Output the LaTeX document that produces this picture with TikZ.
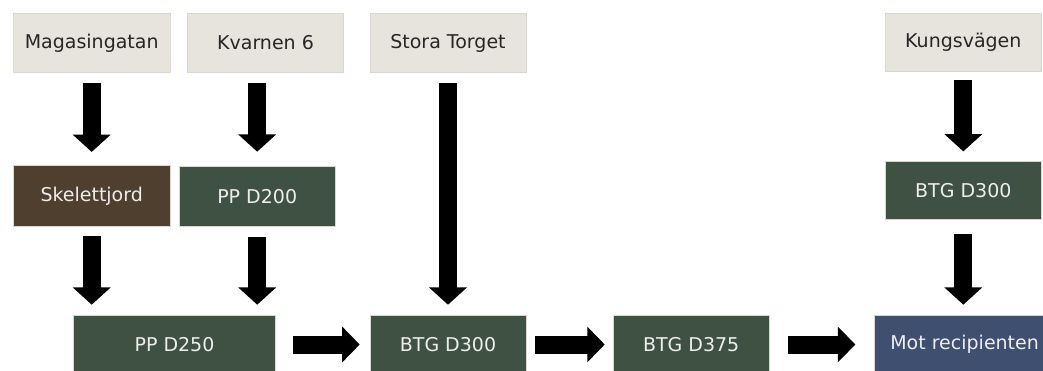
\documentclass[tikz,border=0pt]{standalone}
\usepackage{fontspec}
\setmainfont{DejaVu Sans}
\usetikzlibrary{arrows.meta}

\definecolor{sand}{HTML}{E7E4DD}
\definecolor{pine}{HTML}{3F5142}
\definecolor{soil}{HTML}{4F3F2F}
\definecolor{slate}{HTML}{3F4F6F}
\definecolor{edge}{HTML}{DAD7D2}
\definecolor{ink}{HTML}{262626}
\definecolor{paper}{HTML}{EDEDED}

\begin{document}
\begin{tikzpicture}[x=1pt, y=-1pt,
  box/.style={rectangle, draw=edge, line width=0.6pt, inner sep=0pt,
    font=\fontsize{19}{22}\selectfont},
  source/.style={box, fill=sand, text=ink},
  pipe/.style={box, fill=pine, text=paper},
  ground/.style={box, fill=soil, text=paper},
  outlet/.style={box, fill=slate, text=paper},
  downflow/.style={line width=18pt, -{Triangle[width=37pt,length=17.3pt]}},
  sideflow/.style={line width=18pt, -{Triangle[width=34.7pt,length=17.5pt]}}]

\useasboundingbox (0,0) rectangle (1043,370);
\fill[white] (0,0) rectangle (1043,370);

% sources along the top
\node[source, minimum width=156.7pt, minimum height=59.4pt] (mag) at (91.7,43) {Magasingatan};
\node[source, minimum width=155.6pt, minimum height=59.4pt] (kva) at (265.5,43) {Kvarnen 6};
\node[source, minimum width=156pt, minimum height=59.4pt] (sto) at (448,43) {Stora Torget};
\node[source, minimum width=156.7pt, minimum height=58.4pt] (kun) at (963.3,42.5) {Kungsvägen};

% intermediate stretches
\node[ground, minimum width=156.7pt, minimum height=60.3pt] (ske) at (91.7,195.8) {Skelettjord};
\node[pipe, minimum width=155.7pt, minimum height=60pt] (d200) at (257.2,196.7) {PP D200};
\node[pipe, minimum width=156.7pt, minimum height=57.6pt] (kd300) at (963.3,190.5) {BTG D300};

% main line along the bottom
\node[pipe, minimum width=202.4pt, minimum height=59pt] (d250) at (174.5,344.5) {PP D250};
\node[pipe, minimum width=156pt, minimum height=59pt] (b300) at (448,344.5) {BTG D300};
\node[pipe, minimum width=155.7pt, minimum height=59pt] (b375) at (691.2,344.5) {BTG D375};
\node[outlet, minimum width=180.7pt, minimum height=59pt] (mot) at (964.6,344.5) {Mot recipienten};

% flows downwards
\draw[downflow, shorten <=10pt, shorten >=13.4pt] (mag.south) -- (ske.north);
\draw[downflow, shorten <=10pt, shorten >=14.7pt] (d200.north |- kva.south) -- (d200.north);
\draw[downflow, shorten <=10pt, shorten >=10pt] (ske.south) -- (ske.south |- d250.north);
\draw[downflow, shorten <=10pt, shorten >=10pt] (d200.south) -- (d200.south |- d250.north);
\draw[downflow, shorten <=10pt, shorten >=10pt] (sto.south) -- (b300.north);
\draw[downflow, shorten <=8.3pt, shorten >=10pt] (kun.south) -- (kd300.north);
\draw[downflow, shorten <=14pt, shorten >=10pt] (kd300.south) -- (kd300.south |- mot.north);

% flows along the main line
\draw[sideflow, shorten <=16.6pt, shorten >=10pt] (d250.east) -- (b300.west);
\draw[sideflow, shorten <=9pt, shorten >=8.3pt] (b300.east) -- (b375.west);
\draw[sideflow, shorten <=18.3pt, shorten >=18.6pt] (b375.east) -- (b375.east -| mot.west);
\end{tikzpicture}
\end{document}
